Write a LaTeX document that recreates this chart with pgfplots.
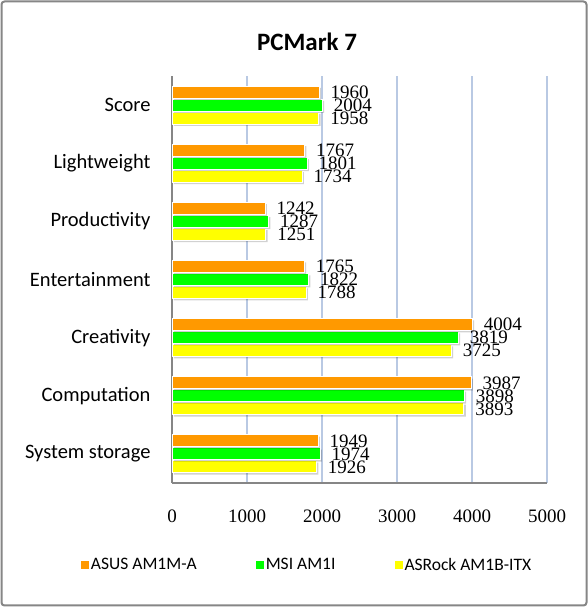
\documentclass[border=0pt]{standalone}
\usepackage{fontspec}
\setmainfont{Liberation Serif}
\newfontfamily\calibri{Carlito}
\usepackage{pgfplots}
\pgfplotsset{compat=1.18}
\definecolor{cOr}{HTML}{FF9900}
\definecolor{cGr}{HTML}{00FF00}
\definecolor{cYe}{HTML}{FFFF00}
\definecolor{gridblue}{HTML}{B9C9E3}
\definecolor{frame}{HTML}{868686}
\pgfplotsset{barsty/.style={draw=white, line width=1pt,
  preaction={fill=black, fill opacity=0.18, draw=none, transform canvas={shift={(1.8pt,-1.8pt)}}}}}
\begin{document}
\begin{tikzpicture}
\useasboundingbox (0pt,0pt) rectangle (588pt,607pt);
\draw[frame, line width=2pt, rounded corners=3pt] (1.5pt,1.5pt) rectangle (586.5pt,605.5pt);
\node[font=\calibri\bfseries\fontsize{25}{30}\selectfont] at (307pt,565pt) {PCMark 7};
\begin{axis}[at={(172pt,124pt)}, anchor=south west, scale only axis,
  width=375pt, height=407pt,
  xbar, bar width=12pt,
  xmin=0, xmax=5000, ymin=-0.5, ymax=6.5,
  ytick={0,...,6},
  yticklabels={System storage, Computation, Creativity, Entertainment, Productivity, Lightweight, Score},
  xtick={0,1000,...,5000},
  axis x line*=bottom, axis y line*=left,
  axis line style={draw=frame, line width=1.2pt, -},
  xmajorgrids, major grid style={draw=gridblue, line width=1.2pt},
  major tick length=0pt,
  yticklabel style={font=\calibri\fontsize{20.5}{24}\selectfont, xshift=-18pt},
  xticklabel style={font=\fontsize{19}{22}\selectfont, yshift=-23pt},
  /pgf/number format/assume math mode=true,
  /pgf/number format/1000 sep={},
  nodes near coords,
  every node near coord/.append style={font=\fontsize{19}{22}\selectfont, anchor=west, inner sep=0pt, xshift=11pt, text=black},
  legend columns=3,
  legend image code/.code={\fill[#1] (0pt,-4pt) rectangle (8pt,4pt);},
  legend style={at={(-0.2427,-0.2015)}, anchor=west, draw=none, fill=none, inner sep=0pt, outer sep=0pt,
    font=\calibri\fontsize{17.5}{21}\selectfont,
    /tikz/every even column/.append style={column sep=57pt}},
]
\addplot[barsty, fill=cYe, bar shift=-13pt, forget plot] coordinates {(1926,0) (3893,1) (3725,2) (1788,3) (1251,4) (1734,5) (1958,6)};
\addplot[barsty, fill=cGr, bar shift=0pt, forget plot] coordinates {(1974,0) (3898,1) (3819,2) (1822,3) (1287,4) (1801,5) (2004,6)};
\addplot[barsty, fill=cOr, bar shift=13pt, forget plot] coordinates {(1949,0) (3987,1) (4004,2) (1765,3) (1242,4) (1767,5) (1960,6)};
\addlegendimage{fill=cOr, draw=none}
\addlegendentry{ASUS AM1M-A}
\addlegendimage{fill=cGr, draw=none}
\addlegendentry{MSI AM1I}
\addlegendimage{fill=cYe, draw=none}
\addlegendentry{ASRock AM1B-ITX}
\end{axis}
\end{tikzpicture}
\end{document}
